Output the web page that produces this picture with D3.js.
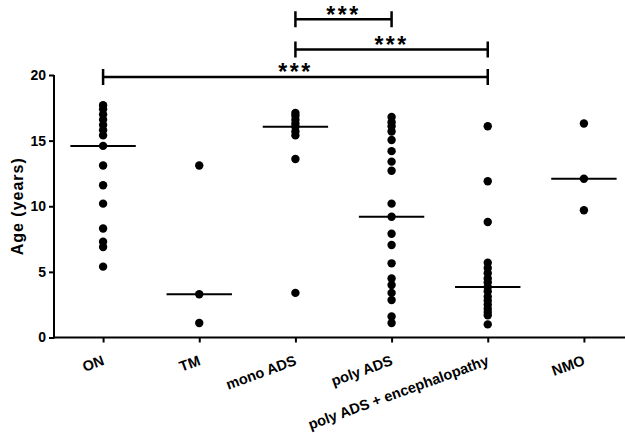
<!DOCTYPE html>
<html>
<head>
<meta charset="utf-8">
<script src="https://cdn.jsdelivr.net/npm/d3@7"></script>
<style>
  body { margin: 0; background: #fff; }
  svg { display: block; font-family: "Liberation Sans", Arial, sans-serif; }
</style>
</head>
<body>
<div id="chart"></div>
<script>
// categories and ages (years)
const categories = ["ON", "TM", "mono ADS", "poly ADS", "poly ADS + encephalopathy", "NMO"];
const onAges = [17.7, 17.4, 17.0, 16.6, 16.2, 15.8, 15.4, 14.6, 13.1, 11.6, 10.2, 8.3, 7.3, 6.9, 5.4];
const tmAges = [13.1, 3.3, 1.1];
const monoAges = [17.1, 16.9, 16.6, 16.3, 16.05, 15.7, 15.4, 13.6, 3.4];
const polyAges = [16.8, 16.4, 16.1, 15.7, 15.05, 14.2, 13.4, 12.7, 10.2, 9.2, 7.9, 7.05, 5.65, 4.5, 4.0, 3.4, 2.85, 1.6, 1.1];
const encephAges = [16.1, 11.9, 8.8, 5.7, 5.3, 4.9, 4.5, 4.2, 3.85, 3.5, 3.1, 2.8, 2.5, 2.2, 1.95, 1.7, 1.0];
const nmoAges = [16.3, 12.1, 9.7];
const medians = [14.6, 3.3, 16.05, 9.2, 3.85, 12.1];
const yTicks = [0, 5, 10, 15, 20];

// significance brackets: from, to, level (years)
const brackets = [
  { from: "mono ADS", to: "poly ADS", level: 24.25, label: "***" },
  { from: "mono ADS", to: "poly ADS + encephalopathy", level: 21.95, label: "***" },
  { from: "ON", to: "poly ADS + encephalopathy", level: 19.85, label: "***" }
];

const groups = [onAges, tmAges, monoAges, polyAges, encephAges, nmoAges]
  .map((vals, i) => ({ cat: categories[i], vals, median: medians[i] }));

const W = 625, H = 433;
const axisX = 54, axisY = 337.5;

const svg = d3.select("#chart").append("svg")
  .attr("width", W)
  .attr("height", H);

const x = d3.scalePoint().domain(categories).range([55, 632]).padding(0.5);
const y = d3.scaleLinear().domain([0, 20]).range([axisY, 75]);
const step = x.step();

// y axis
const yAxis = svg.append("g")
  .attr("transform", `translate(${axisX},0)`)
  .call(d3.axisLeft(y).tickValues(yTicks).tickSize(5).tickSizeOuter(0).tickPadding(3));
yAxis.select(".domain").attr("stroke-width", 2).attr("d", `M0,${y(20)}V${axisY + 1}`);
yAxis.selectAll(".tick line").attr("stroke-width", 2);
yAxis.selectAll(".tick text")
  .style("font-size", "14px")
  .style("font-weight", "bold")
  .attr("fill", "#000");

// x axis
const xAxis = svg.append("g")
  .attr("transform", `translate(0,${axisY})`)
  .call(d3.axisBottom(x).tickSize(5).tickSizeOuter(0).tickFormat(""));
xAxis.select(".domain").attr("stroke-width", 2).attr("d", `M${axisX - 1},0H${W + 5}`);
xAxis.selectAll(".tick line").attr("stroke-width", 2);

// rotated category labels
svg.append("g")
  .selectAll("text")
  .data(categories)
  .join("text")
  .attr("transform", d => `translate(${x(d) + 2},${axisY + 27}) rotate(-20)`)
  .attr("text-anchor", "end")
  .style("font-size", "14.5px")
  .style("font-weight", "bold")
  .text(d => d);

// y title
svg.append("text")
  .attr("transform", `translate(23,${y(10)}) rotate(-90)`)
  .attr("text-anchor", "middle")
  .style("font-size", "16px")
  .style("font-weight", "bold")
  .style("letter-spacing", "1px")
  .text("Age (years)");

// medians
svg.append("g")
  .selectAll("line")
  .data(groups)
  .join("line")
  .attr("x1", d => x(d.cat) - step * 0.34)
  .attr("x2", d => x(d.cat) + step * 0.34)
  .attr("y1", d => y(d.median))
  .attr("y2", d => y(d.median))
  .attr("stroke", "#000")
  .attr("stroke-width", 2);

// dots
svg.append("g")
  .selectAll("circle")
  .data(groups.flatMap(g => g.vals.map(v => ({ cat: g.cat, v }))))
  .join("circle")
  .attr("cx", d => x(d.cat))
  .attr("cy", d => y(d.v))
  .attr("r", 4.2)
  .attr("fill", "#000");

// significance brackets
const br = svg.append("g").selectAll("g").data(brackets).join("g");
br.append("path")
  .attr("d", d => {
    const x1 = x(d.from), x2 = x(d.to), yy = y(d.level);
    return `M${x1},${yy - 8}V${yy + 8}M${x1},${yy}H${x2}M${x2},${yy - 8}V${yy + 8}`;
  })
  .attr("fill", "none")
  .attr("stroke", "#000")
  .attr("stroke-width", 2.5);
br.append("text")
  .attr("x", d => (x(d.from) + x(d.to)) / 2)
  .attr("y", d => y(d.level) + 3.5)
  .attr("text-anchor", "middle")
  .style("font-size", "23px")
  .style("font-weight", "bold")
  .style("letter-spacing", "2.5px")
  .text(d => d.label);
</script>
</body>
</html>
